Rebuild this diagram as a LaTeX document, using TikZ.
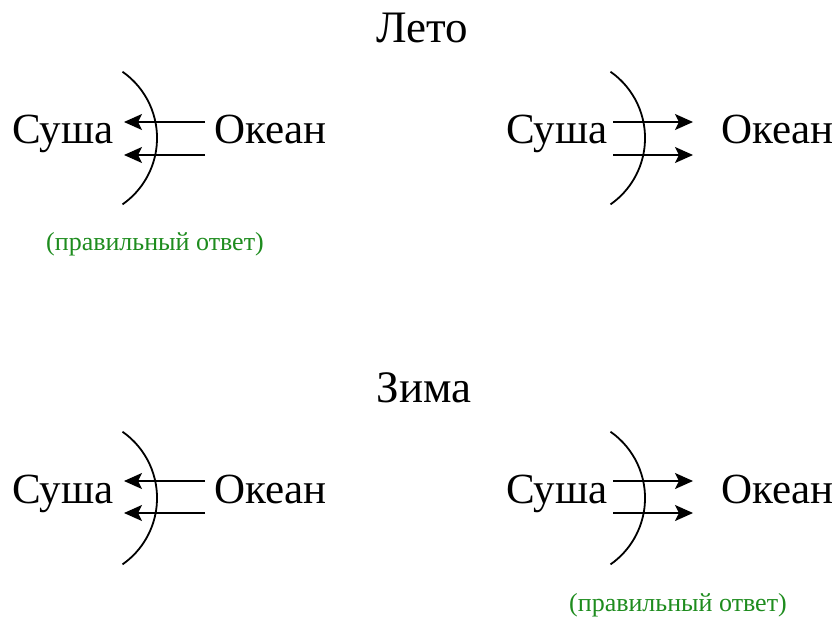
\documentclass[tikz,border=0pt]{standalone}
\usepackage{fontspec}
\setmainfont{Liberation Serif}
\usetikzlibrary{arrows.meta}
\definecolor{answergreen}{RGB}{30,140,30}
\tikzset{
  word/.style={inner sep=0pt, anchor=base west, font=\fontsize{43}{47}\selectfont},
  title/.style={inner sep=0pt, anchor=base, font=\fontsize{45}{49}\selectfont},
  note/.style={inner sep=0pt, anchor=base, text=answergreen, font=\fontsize{26}{28}\selectfont},
  coast/.style={line width=1.8pt},
  wind/.style={line width=1.4pt, -{Stealth[length=18pt,width=16pt,inset=4pt]}}
}
\begin{document}
\begin{tikzpicture}[x=1pt,y=1pt]
\useasboundingbox (0,0) rectangle (840,-626);
% titles
\node[title] (leto) at (422,-43) {Лето};
\node[title] (zima) at (424,-402) {Зима};
% ---- top left
\node[word] (s1) at (12,-143) {Суша};
\node[word] (o1) at (214,-143) {Океан};
\draw[coast] (122.5,-71.7) arc[start angle=55,end angle=-55,radius=81];
\coordinate (a1s) at (205,-122); \coordinate (a1e) at (124,-122);
\coordinate (b1s) at (205,-155); \coordinate (b1e) at (124,-155);
\draw[wind] (a1s) -- (a1e);
\draw[wind] (b1s) -- (b1e);
\node[note] (n1) at (155,-250) {(правильный ответ)};
% ---- top right
\node[word] (s2) at (506,-143) {Суша};
\node[word] (o2) at (721,-143) {Океан};
\draw[coast] (610.5,-71.7) arc[start angle=55,end angle=-55,radius=81];
\coordinate (a2s) at (613,-122); \coordinate (a2e) at (693,-122);
\coordinate (b2s) at (613,-155); \coordinate (b2e) at (693,-155);
\draw[wind] (a2s) -- (a2e);
\draw[wind] (b2s) -- (b2e);
% ---- bottom left
\node[word] (s3) at (12,-503) {Суша};
\node[word] (o3) at (214,-503) {Океан};
\draw[coast] (122.5,-431.7) arc[start angle=55,end angle=-55,radius=81];
\coordinate (a3s) at (205,-481); \coordinate (a3e) at (124,-481);
\coordinate (b3s) at (205,-513); \coordinate (b3e) at (124,-513);
\draw[wind] (a3s) -- (a3e);
\draw[wind] (b3s) -- (b3e);
% ---- bottom right
\node[word] (s4) at (506,-503) {Суша};
\node[word] (o4) at (721,-503) {Океан};
\draw[coast] (610.5,-431.7) arc[start angle=55,end angle=-55,radius=81];
\coordinate (a4s) at (613,-481); \coordinate (a4e) at (693,-481);
\coordinate (b4s) at (613,-513); \coordinate (b4e) at (693,-513);
\draw[wind] (a4s) -- (a4e);
\draw[wind] (b4s) -- (b4e);
\node[note] (n4) at (678,-611) {(правильный ответ)};
\end{tikzpicture}
\end{document}
